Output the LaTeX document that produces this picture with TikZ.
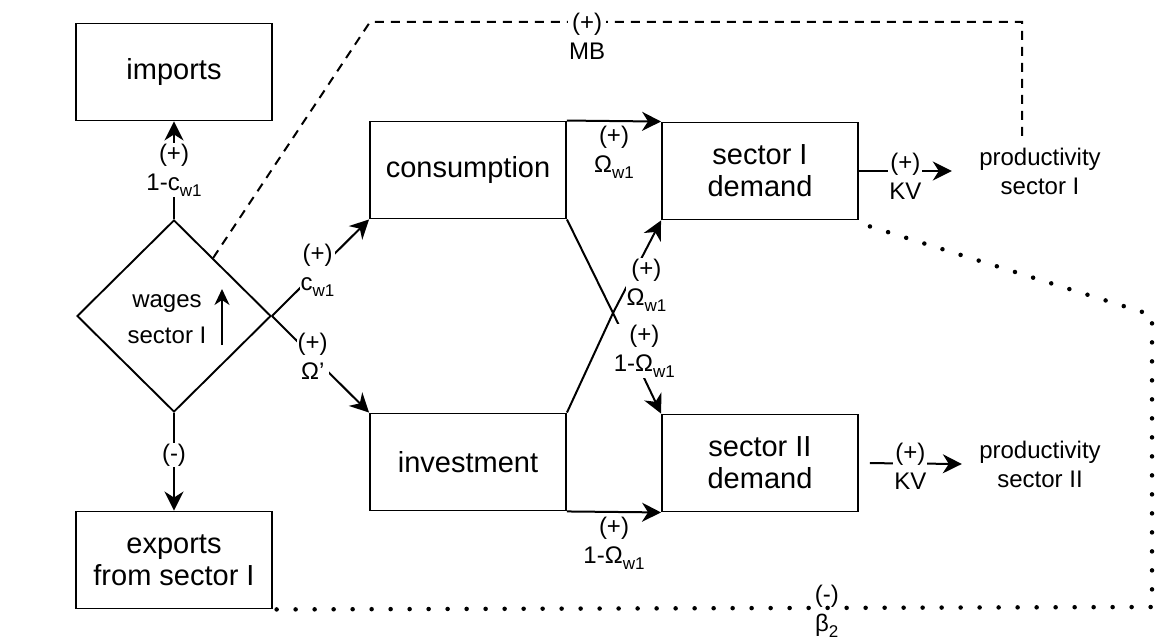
\documentclass[tikz,border=0pt]{standalone}
\usepackage{fontspec}
\setmainfont{Liberation Sans}
\usetikzlibrary{shapes.geometric,arrows.meta}
\newcommand\lsub[1]{\raisebox{-6pt}{\fontsize{17}{17}\selectfont #1}}
\tikzset{
  bigtip/.tip={Stealth[length=19pt,width=19pt,inset=6pt]},
  smalltip/.tip={Stealth[length=16pt,width=15pt,inset=5pt]}
}
\begin{document}
\begin{tikzpicture}[x=1pt,y=-1pt,
  box/.style={draw,line width=1.9pt,minimum width=196pt,minimum height=97pt,align=center,font=\fontsize{29}{32}\selectfont,inner sep=0pt},
  lab/.style={font=\fontsize{24}{29}\selectfont,align=center,fill=white,inner sep=1pt},
  ptext/.style={font=\fontsize{24}{29}\selectfont,align=center,minimum height=60pt,inner sep=0pt},
  conn/.style={line width=2pt},
  arr/.style={conn,-bigtip},
  dsh/.style={line width=2pt,dash pattern=on 9pt off 7pt},
  dts/.style={line width=4.5pt,line cap=round,dash pattern=on 0pt off 19pt}
]
\useasboundingbox (0,0) rectangle (1165,639);

\node[box] (imp) at (174,72) {imports};
\node[box] (exp) at (174,560) {exports\\from sector I};
\node[draw,diamond,line width=1.9pt,minimum width=194pt,minimum height=192pt,inner sep=0pt] (w) at (174,316) {};
\node[font=\fontsize{24}{36}\selectfont,align=center] (wt) at (167,319) {wages\\sector I};
\node[box] (cons) at (468,170) {consumption};
\node[box] (inv) at (468,462) {investment};
\node[box] (s1) at (760,171) {sector I\\demand};
\node[box] (s2) at (760,463) {sector II\\demand};
\node[ptext,minimum width=176pt] (p1) at (1040,171) {productivity\\sector I};
\node[ptext,minimum width=156pt] (p2) at (1040,464) {productivity\\sector II};

\coordinate (x) at (613,313);
\coordinate (d1) at (370,22);
\coordinate (d2) at (1022,22);
\coordinate (e1) at (1152,315);
\coordinate (e2) at (1152,607);

% inner arrow of the diamond
\draw[conn,-smalltip] ([xshift=48pt,yshift=-29pt]w.center) -- ([xshift=48pt,yshift=27pt]w.center);

% dashed and dotted feedback lines
\draw[dsh] (w.56) -- (d1) -- node[lab,pos=0.333,yshift=-14pt]{(+)\\MB} (d2) -- (d2 |- p1.north);
\draw[dts] ([xshift=11pt,yshift=-6pt]s1.south east) -- (e1) -- (e2) -- node[lab,fill=none,pos=0.37,yshift=-3pt]{(-)\\β\lsub{2}} (exp.south east);

% wages connectors
\draw[arr] (w.north) -- node[lab]{(+)\\1-c\lsub{w1}} (imp.south);
\draw[arr] (w.south) -- node[lab,pos=0.43]{(-)} (exp.north);
\draw[arr] (w.east) -- node[lab,pos=0.47]{(+)\\c\lsub{w1}} (cons.south west);
\draw[arr] (w.east) -- node[lab,pos=0.42]{(+)\\Ω'} (inv.north west);

% consumption / investment to demand
\draw[arr] (cons.north east) -- node[lab,fill=none,below=3pt]{(+)\\Ω\lsub{w1}} (s1.north west);
\draw[arr] (inv.south east) -- node[lab,fill=none,below=3pt]{(+)\\1-Ω\lsub{w1}} (s2.south west);
\draw[arr] (cons.south east) -- (x) -- node[lab,pos=0.38,xshift=13pt]{(+)\\1-Ω\lsub{w1}} (s2.north west);
\draw[arr] (inv.north east) -- (x) -- node[lab,pos=0.3,xshift=19pt]{(+)\\Ω\lsub{w1}} (s1.south west);

% demand to productivity
\draw[arr] (s1.east) -- node[lab,yshift=-5pt]{(+)\\KV} (p1.west);
\draw[arr,shorten <=11pt] (s2.east) -- node[lab,yshift=-3pt]{(+)\\KV} (p2.west);
\end{tikzpicture}
\end{document}
